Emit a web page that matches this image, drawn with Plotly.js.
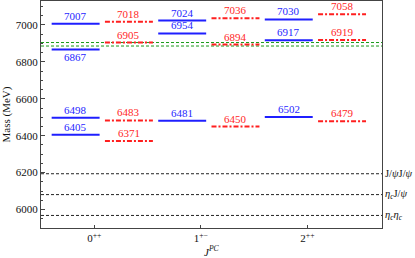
<!DOCTYPE html>
<html><head><meta charset="utf-8">
<script src="https://cdn.plot.ly/plotly-3.0.1.min.js"></script>
<style>html,body{margin:0;padding:0;background:#fff}#chart{width:415px;height:258px}</style>
</head><body><div id="chart"></div>
<script>
// Data
const categories = ["0<sup>++</sup>", "1<sup>+\u2212</sup>", "2<sup>++</sup>"];
const blueMasses = [[6405, 6498, 6867, 7007], [6481, 6954, 7024], [6502, 6917, 7030]];
const redMasses  = [[6371, 6483, 6905, 7018], [6450, 6894, 7036], [6479, 6919, 7058]];
const blueBelow  = [6867];           // labels drawn under the line
const thresholds = [5968, 6081, 6194];
const thresholdLabels = ["<i>\u03b7</i><sub><i>c</i></sub><i>\u03b7</i><sub><i>c</i></sub>", "<i>\u03b7</i><sub><i>c</i></sub>J/<i>\u03c8</i>", "J/<i>\u03c8</i>J/<i>\u03c8</i>"];
const xMeasured = [6886, 6905];

const FONT = "Liberation Serif, DejaVu Serif, serif";
const BLUE = "#1f1fff", RED = "#ff1f1f";
const traces = [];
const annotations = [];
const xMin = -0.5, xMax = 2.7;

// thresholds
thresholds.forEach((t, i) => {
  traces.push({x: [xMin, xMax], y: [t, t], mode: "lines", hoverinfo: "skip",
    line: {color: "#222", width: 1, dash: "3px,2px"}});
  annotations.push({xref: "paper", yref: "y", x: 1, y: t, xanchor: "left", yanchor: "middle",
    xshift: 1, showarrow: false, text: thresholdLabels[i], font: {family: FONT, size: 10.5, color: "#111"}});
});
xMeasured.forEach(v => {
  traces.push({x: [xMin, xMax], y: [v, v], mode: "lines", hoverinfo: "skip",
    line: {color: "#1a9a1a", width: 1, dash: "3px,2px"}});
});

categories.forEach((c, ci) => {
  blueMasses[ci].forEach(m => {
    traces.push({x: [ci - 0.4, ci + 0.05], y: [m, m], mode: "lines", hoverinfo: "skip",
      line: {color: BLUE, width: 2}});
    const below = blueBelow.includes(m);
    annotations.push({x: ci - 0.175, y: m, xref: "x", yref: "y", showarrow: false,
      text: String(m), yanchor: below ? "top" : "bottom", yshift: below ? 0 : 1, borderpad: 0,
      font: {family: FONT, size: 11, color: BLUE}});
  });
  redMasses[ci].forEach(m => {
    traces.push({x: [ci + 0.1, ci + 0.55], y: [m, m], mode: "lines", hoverinfo: "skip",
      line: {color: RED, width: 2, dash: "5px,2px,2px,2px"}});
    annotations.push({x: ci + 0.325, y: m, xref: "x", yref: "y", showarrow: false,
      text: String(m), yanchor: "bottom", yshift: 1, borderpad: 0,
      font: {family: FONT, size: 11, color: RED}});
  });
});

// x-axis title placed just under the tick labels
annotations.push({xref: "paper", yref: "paper", x: 0.5, y: 0, yanchor: "top", yshift: -14,
  showarrow: false, text: "<i>J</i><sup><i>PC</i></sup>", font: {family: FONT, size: 11, color: "#111"}});

const layout = {
  width: 415, height: 258,
  margin: {l: 41, r: 33, t: 1, b: 30},
  paper_bgcolor: "#fff", plot_bgcolor: "#fff",
  showlegend: false,
  font: {family: FONT, size: 11, color: "#111"},
  xaxis: {range: [xMin, xMax], tickvals: [0, 1, 2], ticktext: categories,
    showgrid: false, zeroline: false, showline: true, mirror: true, linecolor: "#444", linewidth: 1,
    ticks: "inside", ticklen: 3, tickcolor: "#444", tickfont: {family: FONT, size: 11}},
  yaxis: {range: [5900, 7130], tickvals: [6000, 6200, 6400, 6600, 6800, 7000],
    showgrid: false, zeroline: false, showline: true, mirror: true, linecolor: "#444", linewidth: 1,
    ticks: "inside", ticklen: 4, tickcolor: "#444", tickfont: {family: FONT, size: 11},
    minor: {dtick: 50, tick0: 0, ticks: "inside", ticklen: 2, tickcolor: "#444"},
    title: {text: "Mass (MeV)", font: {family: FONT, size: 11}, standoff: 4}},
  annotations: annotations
};
Plotly.newPlot("chart", traces, layout, {staticPlot: true, displayModeBar: false});
</script></body></html>
